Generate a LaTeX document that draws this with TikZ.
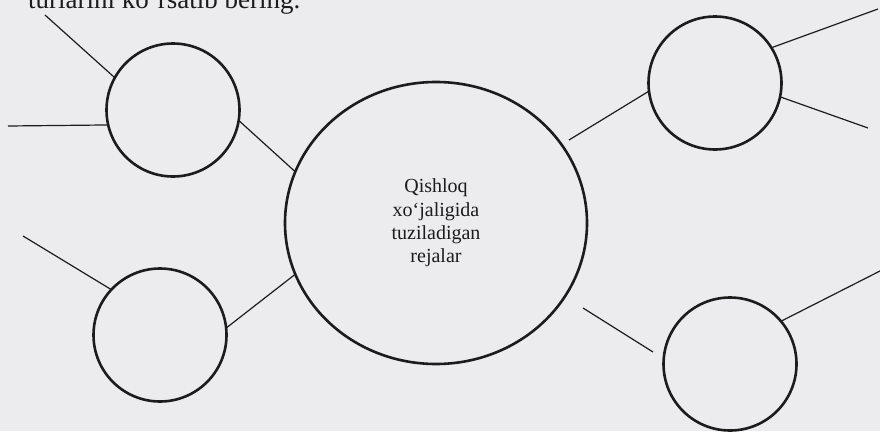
\documentclass[tikz,border=0pt]{standalone}
\usepackage{fontspec}
\setmainfont{Liberation Serif}
\usetikzlibrary{shapes.geometric}
\definecolor{paper}{RGB}{236,236,239}
\definecolor{ink}{RGB}{28,28,28}
\tikzset{
  bubble/.style={circle, draw=ink, line width=2.6pt, minimum size=133pt, inner sep=0pt, outer sep=0pt},
  spoke/.style={draw=ink, line width=1.2pt},
}
\begin{document}
\begin{tikzpicture}[x=1pt, y=-1pt]
  \fill[paper] (0,0) rectangle (880,431);
  \useasboundingbox (0,0) rectangle (880,431);
  \clip (0,0) rectangle (880,431);
  % heading line, cut by the page edge
  \node[anchor=base west, inner sep=0pt, text=ink, font=\fontsize{27}{27}\selectfont] (head) at (28,9) {turlarini ko‘rsatib bering.};
  % centre
  \node[ellipse, draw=ink, line width=2.6pt, minimum width=302pt, minimum height=282pt, inner sep=0pt, outer sep=0pt,
        align=center, text=ink, font=\fontsize{20}{23.3}\selectfont] (plan) at (436,223) {Qishloq\\xo‘jaligida\\tuziladigan\\rejalar};
  % outer circles
  \node[bubble] (tl) at (173,110) {};
  \node[bubble] (tr) at (715,83) {};
  \node[bubble] (bl) at (160,335) {};
  \node[bubble] (br) at (730,364) {};
  % free ends of the spokes
  \coordinate (tlA) at (45,15);
  \coordinate (tlB) at (8,126);
  \coordinate (trA) at (569,140);
  \coordinate (trB) at (878,9);
  \coordinate (trC) at (868,128);
  \coordinate (blA) at (23,236);
  \coordinate (brA) at (583,308);
  \coordinate (brB) at (653,352);
  \coordinate (brC) at (880,271);
  % spokes
  \draw[spoke] (tl.151) -- (tlA);
  \draw[spoke] (tl.193.6) -- (tlB);
  \draw[spoke] (tl.-9) -- (plan.160);
  \draw[spoke] (tr.187.7) -- (trA);
  \draw[spoke] (tr.32.5) -- (trB);
  \draw[spoke] (tr.-12.4) -- (trC);
  \draw[spoke] (bl.137.9) -- (blA);
  \draw[spoke] (bl.6) -- (plan.200);
  \draw[spoke] (brA) -- (brB);
  \draw[spoke] (br.40.3) -- (brC);
\end{tikzpicture}
\end{document}
